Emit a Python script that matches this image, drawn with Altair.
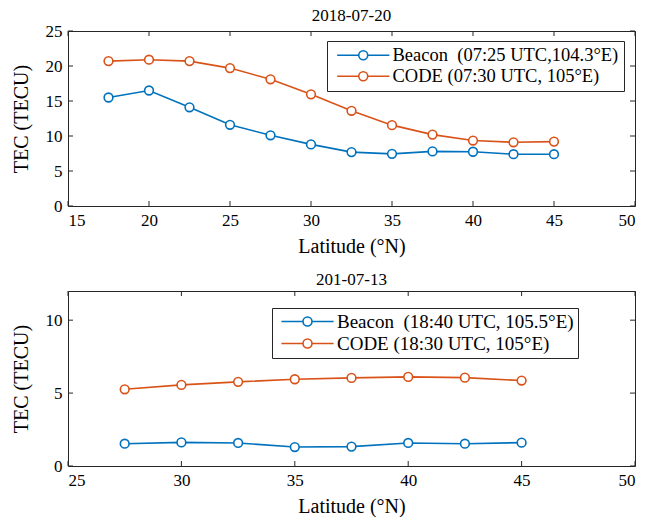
import altair as alt
import pandas as pd

# ---- data: 2018-07-20 ----
lat_a = [17.5, 20, 22.5, 25, 27.5, 30, 32.5, 35, 37.5, 40, 42.5, 45]
beacon_a = [15.5, 16.5, 14.1, 11.6, 10.1, 8.8, 7.7, 7.45, 7.8, 7.75, 7.4, 7.4]
code_a = [20.7, 20.9, 20.7, 19.7, 18.1, 15.95, 13.6, 11.55, 10.2, 9.35, 9.1, 9.2]
names_a = ["Beacon\u00a0 (07:25 UTC,104.3°E)", "CODE (07:30 UTC, 105°E)"]
xticks_a = [15, 20, 25, 30, 35, 40, 45, 50]
yticks_a = [0, 5, 10, 15, 20, 25]

# ---- data: 201-07-13 ----
lat_b = [27.5, 30, 32.5, 35, 37.5, 40, 42.5, 45]
beacon_b = [1.53, 1.62, 1.58, 1.30, 1.33, 1.58, 1.53, 1.60]
code_b = [5.26, 5.56, 5.77, 5.95, 6.04, 6.11, 6.06, 5.86]
names_b = ["Beacon\u00a0 (18:40 UTC, 105.5°E)", "CODE (18:30 UTC, 105°E)"]
xticks_b = [25, 30, 35, 40, 45, 50]
yticks_b = [0, 5, 10]

BLUE = "#0072BD"
ORANGE = "#D95319"
FRAME = "#262626"
FONT = "Liberation Serif"
W, H = 567, 175
TICK = 5

# line + open circle legend glyph
LEGEND_GLYPH = "M-5.8,0L-1,0M1,0L5.8,0M-1,0A1,1,0,1,1,1,0A1,1,0,1,1,-1,0Z"


def panel(lats, beacon, code, names, title, title_offset, xdom, xticks,
          ydom, yticks, lx, ly, lpad, rowpad, lfont):
    n = len(lats)
    df = pd.DataFrame({
        "lat": lats + lats,
        "tec": beacon + code,
        "series": [names[0]] * n + [names[1]] * n,
    })
    xs = alt.Scale(domain=xdom, nice=False, zero=False)
    ys = alt.Scale(domain=ydom, nice=False, zero=False)
    legend = alt.Legend(
        title=None, orient="none", legendX=lx, legendY=ly,
        symbolType=LEGEND_GLYPH, symbolSize=81, symbolStrokeWidth=1.6,
        symbolOffset=22, labelOffset=20,
        labelFont=FONT, labelFontSize=lfont, labelColor="#000000",
        labelLimit=400, padding=lpad, rowPadding=rowpad,
        strokeColor=FRAME, fillColor="white",
    )
    color = alt.Color("series:N", scale=alt.Scale(domain=names, range=[BLUE, ORANGE]),
                      legend=legend)
    common = dict(ticks=False, domain=False, grid=False, labelPadding=6, format="d",
                  labelFont=FONT, labelFontSize=17, labelColor="#000000",
                  titleFont=FONT, titleFontSize=20, titleColor="#000000",
                  titleFontWeight="normal")
    xaxis = alt.Axis(values=xticks, title="Latitude (°N)", titlePadding=8, **common)
    yaxis = alt.Axis(values=yticks, title="TEC (TECU)", titlePadding=14, **common)
    x = alt.X("lat:Q", scale=xs, axis=xaxis)
    y = alt.Y("tec:Q", scale=ys, axis=yaxis)

    lines = alt.Chart(df).mark_line(strokeWidth=1.6).encode(x=x, y=y, color=color)
    pts = alt.Chart(df).mark_point(shape="circle", filled=False, fill="white",
                                   fillOpacity=1, opacity=1, size=76,
                                   strokeWidth=1.6).encode(x=x, y=y, color=color)

    # inward tick marks on all four sides of the frame
    xt = pd.DataFrame({"v": xticks})
    yt = pd.DataFrame({"v": yticks})
    tx = alt.X("v:Q", scale=xs, axis=xaxis)
    ty = alt.Y("v:Q", scale=ys, axis=yaxis)
    ticks = [
        alt.Chart(xt).mark_rule(color=FRAME, strokeWidth=1).encode(
            x=tx, y=alt.value(H), y2=alt.value(H - TICK)),
        alt.Chart(xt).mark_rule(color=FRAME, strokeWidth=1).encode(
            x=tx, y=alt.value(0), y2=alt.value(TICK)),
        alt.Chart(yt).mark_rule(color=FRAME, strokeWidth=1).encode(
            y=ty, x=alt.value(0), x2=alt.value(TICK)),
        alt.Chart(yt).mark_rule(color=FRAME, strokeWidth=1).encode(
            y=ty, x=alt.value(W), x2=alt.value(W - TICK)),
    ]
    return alt.layer(lines, pts, *ticks).properties(
        width=W, height=H,
        title=alt.TitleParams(title, font=FONT, fontSize=17, fontWeight="normal",
                              color="#000000", offset=title_offset, anchor="middle"),
    )


top = panel(lat_a, beacon_a, code_a, names_a, "2018-07-20", -3, [15, 50], xticks_a,
            [0, 25], yticks_a, 259, 10, 5, 2, 18.5)
bottom = panel(lat_b, beacon_b, code_b, names_b, "201-07-13", 2, [25, 50], xticks_b,
               [0, 12], yticks_b, 204, 17, 4, 2, 19)

chart = alt.vconcat(top, bottom, spacing=85, bounds="flush").resolve_scale(
    x="independent", y="independent", color="independent"
).properties(
    padding={"left": 10, "top": 6, "right": 0, "bottom": 0},
    background="white",
).configure_view(
    stroke=FRAME, strokeWidth=1
)

chart.save("out.html", embed_options={"renderer": "svg", "actions": False})
